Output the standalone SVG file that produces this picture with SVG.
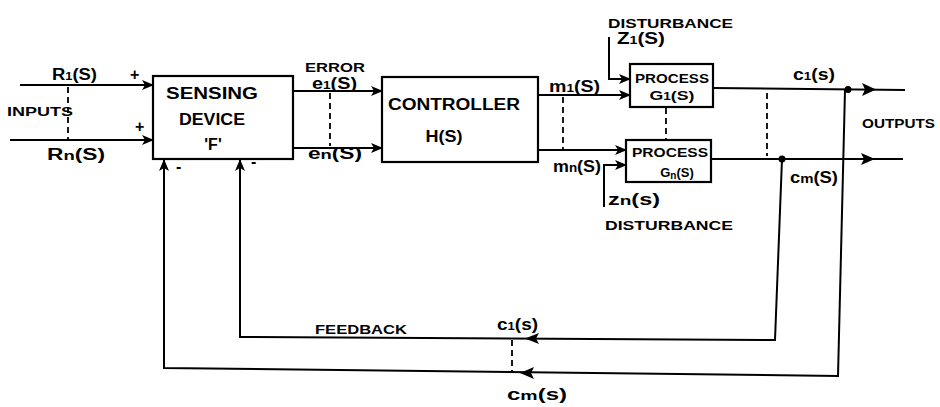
<svg xmlns="http://www.w3.org/2000/svg" width="940" height="407" viewBox="0 0 940 407">
<defs>
<marker id="ah" markerWidth="12" markerHeight="10" refX="11" refY="5" orient="auto" markerUnits="userSpaceOnUse">
<path d="M0,0 L12,5 L0,10 L3,5 Z" fill="#000"/>
</marker>
<style>
.box{fill:#fff;stroke:#000;stroke-width:2.2}
.ln{fill:none;stroke:#000;stroke-width:2}
.ar{fill:none;stroke:#000;stroke-width:2;marker-end:url(#ah)}
.ds{fill:none;stroke:#000;stroke-width:1.8;stroke-dasharray:6,4}
.t{font-family:"Liberation Sans",Arial,sans-serif;font-size:16px;fill:#000;font-weight:bold}
.s{font-family:"Liberation Sans",Arial,sans-serif;font-size:13px;fill:#000;font-weight:bold}
.m{text-anchor:middle}
</style>
</defs>
<rect width="940" height="407" fill="#fff"/>
<g id="connectors">
<path class="ar" d="M20,85 L153,85"/>
<path class="ar" d="M10,140 L153,140"/>
<path class="ds" d="M68,87 L68,140"/>
<path class="ar" d="M293,91 L382,91"/>
<path class="ar" d="M293,148 L382,148"/>
<path class="ds" d="M330,93 L330,146"/>
<path class="ar" d="M538,95 L630,95"/>
<path class="ar" d="M538,150 L626,150"/>
<path class="ds" d="M563,97 L563,150"/>
<path class="ds" d="M666,108 L666,140"/>
<path class="ar" d="M609,37 L609,79 L630,79"/>
<path class="ar" d="M604,207 L604,165 L626,165"/>
<path class="ln" d="M713,88 L905,90"/>
<path d="M862,83 L876,89.5 L862,96 L865,89.5 Z"/>
<path class="ln" d="M711,159 L903,159"/>
<path d="M861,153 L875,159 L861,165 L864,159 Z"/>
<path class="ds" d="M767,93 L767,156"/>
<circle cx="848" cy="89.5" r="3.5"/>
<circle cx="782" cy="159" r="3.5"/>
<path class="ar" d="M782,159 L775,340 L240,337 L240,160"/>
<path d="M539,333 L525,338.5 L539,344 L536,338.5 Z"/>
<path class="ar" d="M845,90 L838,376 L164,368 L164,160"/>
<path d="M534,367 L520,373 L534,379 L531,373 Z"/>
<path class="ds" d="M512,340 L512,371"/>
</g>
<g id="sensing">
<rect class="box" x="153" y="76" width="140" height="83"/>
<text class="t m" x="212" y="99" textLength="92" lengthAdjust="spacingAndGlyphs">SENSING</text>
<text class="t m" x="212" y="125" textLength="66" lengthAdjust="spacingAndGlyphs">DEVICE</text>
<text class="t m" x="213" y="150">'F'</text>
</g>
<g id="controller">
<rect class="box" x="382" y="77" width="156" height="85"/>
<text class="t m" x="454" y="110" textLength="132" lengthAdjust="spacingAndGlyphs">CONTROLLER</text>
<text class="t m" x="444" y="142" textLength="37" lengthAdjust="spacingAndGlyphs">H(S)</text>
</g>
<g id="process1">
<rect class="box" x="630" y="64" width="83" height="43"/>
<text class="s m" x="672" y="83" textLength="74" lengthAdjust="spacingAndGlyphs">PROCESS</text>
<text class="s m" x="672" y="100" textLength="45" lengthAdjust="spacingAndGlyphs">G<tspan font-size="10">1</tspan>(S)</text>
</g>
<g id="processn">
<rect class="box" x="626" y="140" width="85" height="42"/>
<text class="s m" x="670" y="157" textLength="76" lengthAdjust="spacingAndGlyphs">PROCESS</text>
<text class="s m" x="677" y="177">G<tspan font-size="10" dy="2">n</tspan><tspan dy="-2">(S)</tspan></text>
</g>
<g id="labels">
<text class="t" x="52" y="80" textLength="45" lengthAdjust="spacingAndGlyphs">R<tspan font-size="11">1</tspan>(S)</text>
<text class="t" x="47" y="160" textLength="58" lengthAdjust="spacingAndGlyphs">R<tspan font-size="13">n</tspan>(S)</text>
<text class="s" x="7" y="116" textLength="66" lengthAdjust="spacingAndGlyphs">INPUTS</text>
<text class="t" x="130" y="80">+</text>
<text class="t" x="135" y="132">+</text>
<text class="t" x="176" y="172">-</text>
<text class="t" x="251" y="167">-</text>
<text class="s" x="305" y="72" textLength="60" lengthAdjust="spacingAndGlyphs">ERROR</text>
<text class="t" x="312" y="89" textLength="45" lengthAdjust="spacingAndGlyphs">e<tspan font-size="11">1</tspan>(S)</text>
<text class="t" x="308" y="159" textLength="54" lengthAdjust="spacingAndGlyphs">e<tspan font-size="13">n</tspan>(S)</text>
<text class="t" x="549" y="92" textLength="51" lengthAdjust="spacingAndGlyphs">m<tspan font-size="11">1</tspan>(S)</text>
<text class="t" x="553" y="172" textLength="48" lengthAdjust="spacingAndGlyphs">m<tspan font-size="12">n</tspan>(S)</text>
<text class="s" x="608" y="28" textLength="125" lengthAdjust="spacingAndGlyphs">DISTURBANCE</text>
<text class="t" x="617" y="44" textLength="48" lengthAdjust="spacingAndGlyphs">Z<tspan font-size="11">1</tspan>(S)</text>
<text class="t" x="608" y="205" textLength="52" lengthAdjust="spacingAndGlyphs">z<tspan font-size="13">n</tspan>(s)</text>
<text class="s" x="605" y="230" textLength="128" lengthAdjust="spacingAndGlyphs">DISTURBANCE</text>
<text class="t" x="793" y="80" textLength="42" lengthAdjust="spacingAndGlyphs">c<tspan font-size="11">1</tspan>(s)</text>
<text class="t" x="790" y="183" textLength="48" lengthAdjust="spacingAndGlyphs">c<tspan font-size="13">m</tspan>(S)</text>
<text class="s" x="862" y="128" textLength="73" lengthAdjust="spacingAndGlyphs">OUTPUTS</text>
<text class="s" x="315" y="334" textLength="92" lengthAdjust="spacingAndGlyphs">FEEDBACK</text>
<text class="t" x="497" y="330" textLength="41" lengthAdjust="spacingAndGlyphs">c<tspan font-size="11">1</tspan>(s)</text>
<text class="t" x="507" y="400" textLength="60" lengthAdjust="spacingAndGlyphs">c<tspan font-size="13">m</tspan>(s)</text>
</g>
</svg>
